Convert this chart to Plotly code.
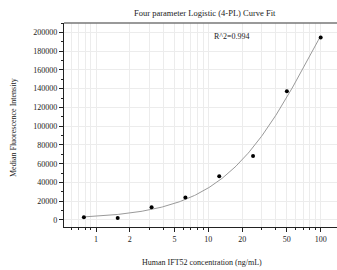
import numpy as np
import plotly.graph_objects as go

conc = [0.78, 1.56, 3.125, 6.25, 12.5, 25, 50, 100]
mfi = [2900, 2100, 13500, 23900, 46700, 68100, 137200, 194600]
x_major = [1, 2, 5, 10, 20, 50, 100]
x_major_text = ["1", "2", "5", "10", "20", "50", "100"]
x_minor = [0.6, 0.7, 0.8, 0.9, 3, 4, 6, 7, 8, 9, 30, 40, 60, 70, 80, 90]
r2_text = "R^2=0.994"

# 4PL fit to the data (grid search over B, C; linear least squares for A, D)
xa = np.array(conc, float)
ya = np.array(mfi, float)
best = None
for B in np.linspace(0.5, 3.0, 126):
    for lc in np.linspace(0.0, 4.0, 201):
        C = 10 ** lc
        u = (xa / C) ** B
        g = u / (1 + u)
        M = np.vstack([np.ones_like(g), g]).T
        coef, *_ = np.linalg.lstsq(M, ya, rcond=None)
        res = np.sum((M @ coef - ya) ** 2)
        if best is None or res < best[0]:
            best = (res, B, C, coef)
_, B, C, (A0, AMP) = best
xs = np.logspace(np.log10(0.78), np.log10(100), 200)
us = (xs / C) ** B
ys = A0 + AMP * us / (1 + us)

font = "Liberation Serif, Times New Roman, serif"
L, R, T, Bm = 64, 0, 23, 43
PW, PH = 337 - L - R, 270 - T - Bm

fig = go.Figure()
fig.add_trace(go.Scatter(x=xs, y=ys, mode="lines",
                         line=dict(color="#9a9a9a", width=1), hoverinfo="skip"))
fig.add_trace(go.Scatter(x=conc, y=mfi, mode="markers",
                         marker=dict(color="black", size=4)))

fig.update_layout(
    width=337, height=270,
    margin=dict(l=L, r=R, t=T, b=Bm, autoexpand=False),
    paper_bgcolor="white", plot_bgcolor="white",
    showlegend=False,
    font=dict(family=font, size=8, color="#222"),
)
fig.update_xaxes(
    type="log", range=[np.log10(0.519), np.log10(139.7)],
    tickvals=x_major, ticktext=x_major_text,
    ticks="outside", ticklen=4, tickwidth=1, tickcolor="#222",
    showline=True, linecolor="#222", linewidth=1.2,
    showgrid=True, gridcolor="#ececec", gridwidth=1,
    minor=dict(tickvals=x_minor, ticks="outside", ticklen=2, tickcolor="#222",
               showgrid=True, gridcolor="#ececec"),
    zeroline=False, automargin=False,
    tickfont=dict(family=font, size=8, color="#222"),
)
fig.update_yaxes(
    range=[-7500, 210000], dtick=20000, tick0=0,
    ticks="outside", ticklen=4, tickwidth=1, tickcolor="#222",
    showline=True, linecolor="#222", linewidth=1.2,
    showgrid=True, gridcolor="#ececec", gridwidth=1,
    minor=dict(dtick=10000, ticks="outside", ticklen=2, tickcolor="#222", showgrid=False),
    zeroline=False, tickformat="d", automargin=False,
    tickfont=dict(family=font, size=8, color="#222"),
)
fig.add_shape(type="line", xref="paper", yref="paper", x0=0, x1=1, y0=1, y1=1,
              line=dict(color="#777", width=1.5))


def px(xp):
    return (xp - L) / PW


def py(yp):
    return (270 - Bm - yp) / PH


fig.add_annotation(text="Four parameter Logistic (4-PL) Curve Fit", xref="paper", yref="paper",
                   x=px(205), y=py(13), showarrow=False, xanchor="center", yanchor="middle",
                   font=dict(family=font, size=8.5, color="#222"))
fig.add_annotation(text="Human IFT52 concentration (ng/mL)", xref="paper", yref="paper",
                   x=px(202), y=py(262), showarrow=False, xanchor="center", yanchor="middle",
                   font=dict(family=font, size=8, color="#222"))
fig.add_annotation(text="Median Fluorescence Intensity", xref="paper", yref="paper",
                   x=px(14), y=py(128), showarrow=False, textangle=-90,
                   xanchor="center", yanchor="middle",
                   font=dict(family=font, size=8, color="#222"))
fig.add_annotation(text=r2_text, xref="paper", yref="paper",
                   x=px(232), y=py(36), showarrow=False, xanchor="center", yanchor="middle",
                   font=dict(family=font, size=8, color="#222"))
fig.write_html("out.html", config={"displayModeBar": False},
               post_script="document.body.style.margin='0';document.body.style.overflow='hidden';")
